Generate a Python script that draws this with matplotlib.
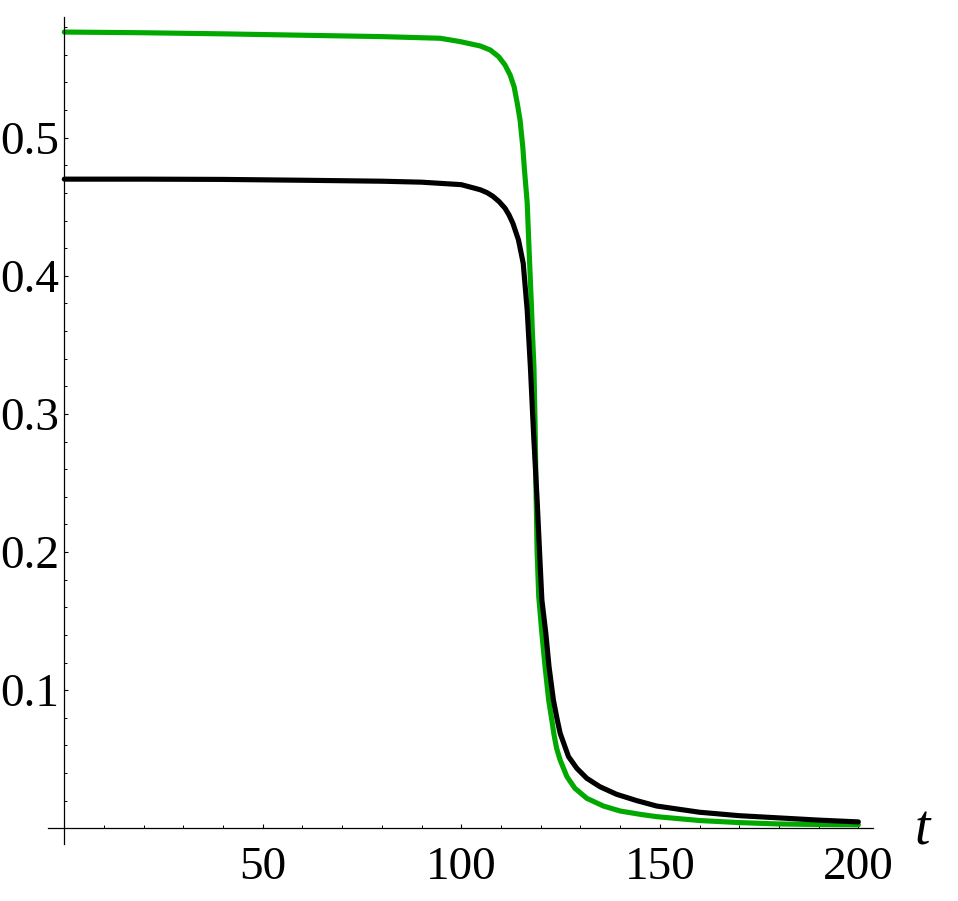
import matplotlib
matplotlib.use("Agg")
import matplotlib.pyplot as plt
from matplotlib.ticker import MultipleLocator, FixedLocator

green_t = [0, 20, 40, 60, 80, 94.7, 99.7, 104.8, 107.3, 109.4, 111.0, 112.3, 113.3,
           114.1, 114.8, 115.5, 115.9, 116.6, 117.1, 117.6, 117.9, 118.3, 118.6,
           118.85, 119.1, 119.5, 120.3, 121.1, 122.0, 122.8, 123.4, 124.0, 124.9,
           126.6, 128.6, 131.6, 135.8, 140, 145, 149.2, 160, 170, 180, 190, 200]
green_y = [0.5765, 0.5760, 0.5752, 0.5742, 0.5732, 0.5720, 0.5696, 0.5664, 0.5635,
           0.5587, 0.5527, 0.5454, 0.5369, 0.5249, 0.5128, 0.4930, 0.4770, 0.4530,
           0.4170, 0.3830, 0.3600, 0.3340, 0.2900, 0.2400, 0.2000, 0.1680, 0.1410,
           0.1170, 0.0929, 0.0784, 0.0670, 0.0580, 0.0494, 0.0374, 0.0290, 0.0217,
           0.0161, 0.0125, 0.0101, 0.0084, 0.0056, 0.0041, 0.0031, 0.0027, 0.0025]

black_t = [0, 20, 40, 60, 80, 90, 100, 104.8, 106.5, 108, 109.5, 111, 112, 113,
           114.4, 115.6, 116.1, 116.6, 117.4, 118.2, 119.1, 119.9, 120.3, 121.3,
           122.1, 123.2, 124.1, 124.9, 126.1, 127.0, 129.1, 131.6, 134.9, 139.1,
           144.2, 149.2, 160, 170, 180, 190, 200]
black_y = [0.4700, 0.4700, 0.4698, 0.4692, 0.4685, 0.4678, 0.4660, 0.4623, 0.4602,
           0.4575, 0.4538, 0.4490, 0.4442, 0.4380, 0.4260, 0.4090, 0.3920, 0.3750,
           0.3340, 0.2860, 0.2377, 0.1890, 0.1653, 0.1410, 0.1170, 0.0929, 0.0795,
           0.0688, 0.0591, 0.0519, 0.0434, 0.0362, 0.0301, 0.0246, 0.0200, 0.0161,
           0.0116, 0.0091, 0.0075, 0.0059, 0.0046]

x_major = [50, 100, 150, 200]
y_major = [0.1, 0.2, 0.3, 0.4, 0.5]
x_label = "t"

W, H = 958, 901
fig = plt.figure(figsize=(W / 100, H / 100), dpi=100)
ax = fig.add_axes([48 / W, (H - 844) / H, (873 - 48) / W, (844 - 17) / H])
ax.set_xlim(-4.1, 203.7)
ax.set_ylim(-0.0114, 0.5874)

ax.plot(green_t, green_y, color="#00a800", lw=3.7, solid_capstyle="round",
        solid_joinstyle="round")
ax.plot(black_t, black_y, color="black", lw=3.7, solid_capstyle="round",
        solid_joinstyle="round")

for s in ["top", "right"]:
    ax.spines[s].set_visible(False)
ax.spines["left"].set_position(("data", 0))
ax.spines["bottom"].set_position(("data", 0))
for s in ["left", "bottom"]:
    ax.spines[s].set_linewidth(0.9)

ax.xaxis.set_major_locator(FixedLocator(x_major))
ax.yaxis.set_major_locator(FixedLocator(y_major))
ax.xaxis.set_minor_locator(MultipleLocator(10))
ax.yaxis.set_minor_locator(FixedLocator([i * 0.02 for i in range(1, 30)]))
ax.set_xticklabels([str(v) for v in x_major])
ax.set_yticklabels([f"{v:.1f}" for v in y_major])

font = "Liberation Serif"
ax.tick_params(which="major", direction="in", length=3, width=0.8, labelsize=34,
               color="black")
ax.tick_params(which="minor", direction="in", length=2, width=0.7, color="black")
ax.tick_params(axis="x", which="major", pad=13)
ax.tick_params(axis="y", which="major", pad=3.8)
for lab in ax.get_xticklabels() + ax.get_yticklabels():
    lab.set_fontfamily(font)

ax.text(216, -0.012, x_label, fontsize=40, fontstyle="italic", family=font,
        ha="center", va="baseline", clip_on=False)

fig.savefig("out.png", dpi=100)
